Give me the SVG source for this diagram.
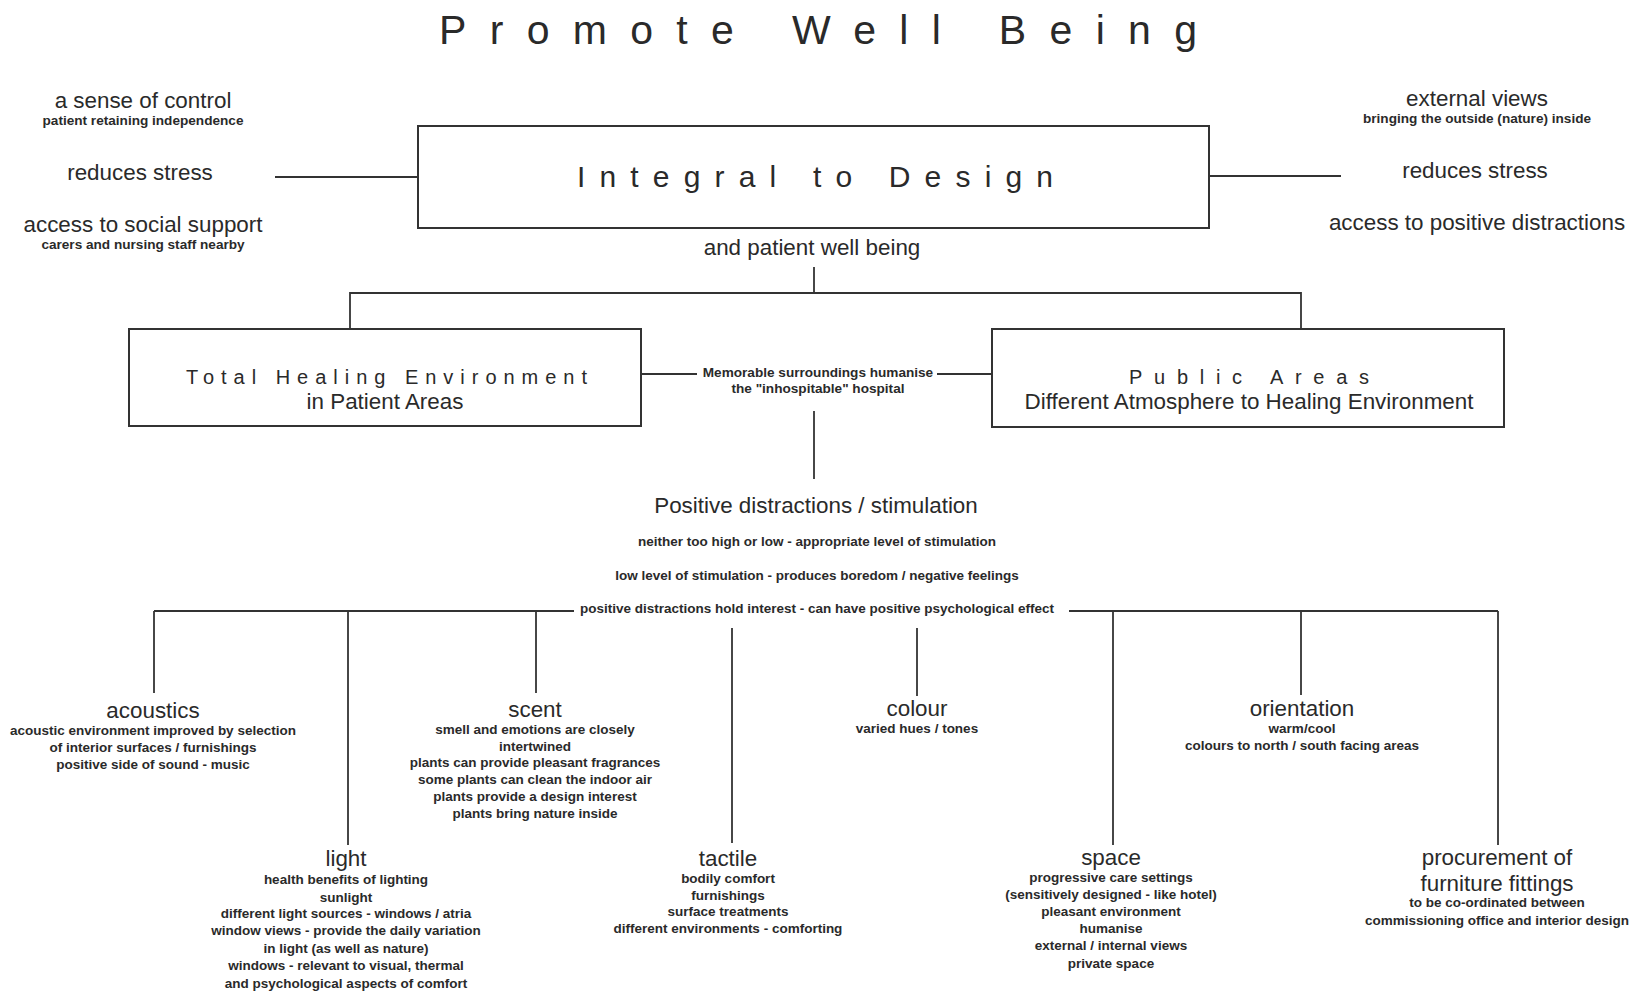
<svg xmlns="http://www.w3.org/2000/svg" width="1646" height="994" viewBox="0 0 1646 994">
<style>
text{font-family:"Liberation Sans",Arial,sans-serif;fill:#222;}
.t{font-size:22.4px;text-anchor:middle;fill:#2a2a2a;}
.s{font-size:13.5px;font-weight:bold;text-anchor:middle;fill:#2a2a2a;}
.xs{font-size:13.6px;font-weight:bold;text-anchor:middle;fill:#2a2a2a;}
.sp{fill:#2a2a2a;}
.box{fill:#fff;stroke:#333;stroke-width:2;}
.ln{stroke:#333;stroke-width:1.8;fill:none;}
</style>
<rect width="1646" height="994" fill="#fff"/>
<text class="sp" x="439" y="44" font-size="41" textLength="758" lengthAdjust="spacing">Promote Well Being</text>

<g id="connectors">
<line class="ln" x1="275" y1="177" x2="418" y2="177"/>
<line class="ln" x1="1209" y1="176" x2="1341" y2="176"/>
<line class="ln" x1="814" y1="267" x2="814" y2="293"/>
<polyline class="ln" points="350,329 350,293 1301,293 1301,329"/>
<line class="ln" x1="641" y1="374" x2="697" y2="374"/>
<line class="ln" x1="937" y1="374" x2="992" y2="374"/>
<line class="ln" x1="814" y1="411" x2="814" y2="479"/>
<line class="ln" x1="154" y1="611" x2="574" y2="611"/>
<line class="ln" x1="1069" y1="611" x2="1498" y2="611"/>
<line class="ln" x1="154" y1="611" x2="154" y2="693"/>
<line class="ln" x1="348" y1="611" x2="348" y2="845"/>
<line class="ln" x1="536" y1="611" x2="536" y2="693"/>
<line class="ln" x1="732" y1="628" x2="732" y2="843"/>
<line class="ln" x1="917" y1="628" x2="917" y2="696"/>
<line class="ln" x1="1113" y1="611" x2="1113" y2="845"/>
<line class="ln" x1="1301" y1="611" x2="1301" y2="695"/>
<line class="ln" x1="1498" y1="611" x2="1498" y2="845"/>
</g>

<g id="left-notes">
<text class="t" x="143" y="108">a sense of control</text>
<text class="xs" x="143" y="125">patient retaining independence</text>
<text class="t" x="140" y="180">reduces stress</text>
<text class="t" x="143" y="232">access to social support</text>
<text class="xs" x="143" y="249">carers and nursing staff nearby</text>
</g>

<g id="integral">
<rect class="box" x="418" y="126" width="791" height="102"/>
<text class="sp" x="577" y="187" font-size="30" textLength="476" lengthAdjust="spacing">Integral to Design</text>
<text class="t" x="812" y="255">and patient well being</text>
</g>

<g id="right-notes">
<text class="t" x="1477" y="106">external views</text>
<text class="xs" x="1477" y="123">bringing the outside (nature) inside</text>
<text class="t" x="1475" y="178">reduces stress</text>
<text class="t" x="1477" y="230">access to positive distractions</text>
</g>

<g id="total-healing">
<rect class="box" x="129" y="329" width="512" height="97"/>
<text class="sp" x="186" y="384" font-size="20" textLength="401" lengthAdjust="spacing">Total Healing Environment</text>
<text class="t" x="385" y="409">in Patient Areas</text>
</g>

<g id="memorable">
<text class="xs" x="818" y="377">Memorable surroundings humanise</text>
<text class="xs" x="818" y="393">the "inhospitable" hospital</text>
</g>

<g id="public-areas">
<rect class="box" x="992" y="329" width="512" height="98"/>
<text class="sp" x="1129" y="384" font-size="20" textLength="240" lengthAdjust="spacing">Public Areas</text>
<text class="t" x="1249" y="409">Different Atmosphere to Healing Environment</text>
</g>

<g id="positive">
<text class="t" x="816" y="513">Positive distractions / stimulation</text>
<text class="s" x="817" y="546">neither too high or low - appropriate level of stimulation</text>
<text class="s" x="817" y="580">low level of stimulation - produces boredom / negative feelings</text>
<text class="s" x="817" y="613">positive distractions hold interest - can have positive psychological effect</text>
</g>

<g id="acoustics">
<text class="t" x="153" y="718">acoustics</text>
<text class="s" x="153" y="735">acoustic environment improved by selection</text>
<text class="s" x="153" y="752">of interior surfaces / furnishings</text>
<text class="s" x="153" y="769">positive side of sound - music</text>
</g>

<g id="scent">
<text class="t" x="535" y="717">scent</text>
<text class="s" x="535" y="734">smell and emotions are closely</text>
<text class="s" x="535" y="751">intertwined</text>
<text class="s" x="535" y="767">plants can provide pleasant fragrances</text>
<text class="s" x="535" y="784">some plants can clean the indoor air</text>
<text class="s" x="535" y="801">plants provide a design interest</text>
<text class="s" x="535" y="818">plants bring nature inside</text>
</g>

<g id="colour">
<text class="t" x="917" y="716">colour</text>
<text class="s" x="917" y="733">varied hues / tones</text>
</g>

<g id="orientation">
<text class="t" x="1302" y="716">orientation</text>
<text class="s" x="1302" y="733">warm/cool</text>
<text class="s" x="1302" y="750">colours to north / south facing areas</text>
</g>

<g id="light">
<text class="t" x="346" y="866">light</text>
<text class="s" x="346" y="884">health benefits of lighting</text>
<text class="s" x="346" y="902">sunlight</text>
<text class="s" x="346" y="918">different light sources - windows / atria</text>
<text class="s" x="346" y="935">window views - provide the daily variation</text>
<text class="s" x="346" y="953">in light (as well as nature)</text>
<text class="s" x="346" y="970">windows - relevant to visual, thermal</text>
<text class="s" x="346" y="988">and psychological aspects of comfort</text>
</g>

<g id="tactile">
<text class="t" x="728" y="866">tactile</text>
<text class="s" x="728" y="883">bodily comfort</text>
<text class="s" x="728" y="900">furnishings</text>
<text class="s" x="728" y="916">surface treatments</text>
<text class="s" x="728" y="933">different environments - comforting</text>
</g>

<g id="space">
<text class="t" x="1111" y="865">space</text>
<text class="s" x="1111" y="882">progressive care settings</text>
<text class="s" x="1111" y="899">(sensitively designed - like hotel)</text>
<text class="s" x="1111" y="916">pleasant environment</text>
<text class="s" x="1111" y="933">humanise</text>
<text class="s" x="1111" y="950">external / internal views</text>
<text class="s" x="1111" y="968">private space</text>
</g>

<g id="procurement">
<text class="t" x="1497" y="865">procurement of</text>
<text class="t" x="1497" y="891">furniture fittings</text>
<text class="s" x="1497" y="907">to be co-ordinated between</text>
<text class="s" x="1497" y="925">commissioning office and interior design</text>
</g>
</svg>
